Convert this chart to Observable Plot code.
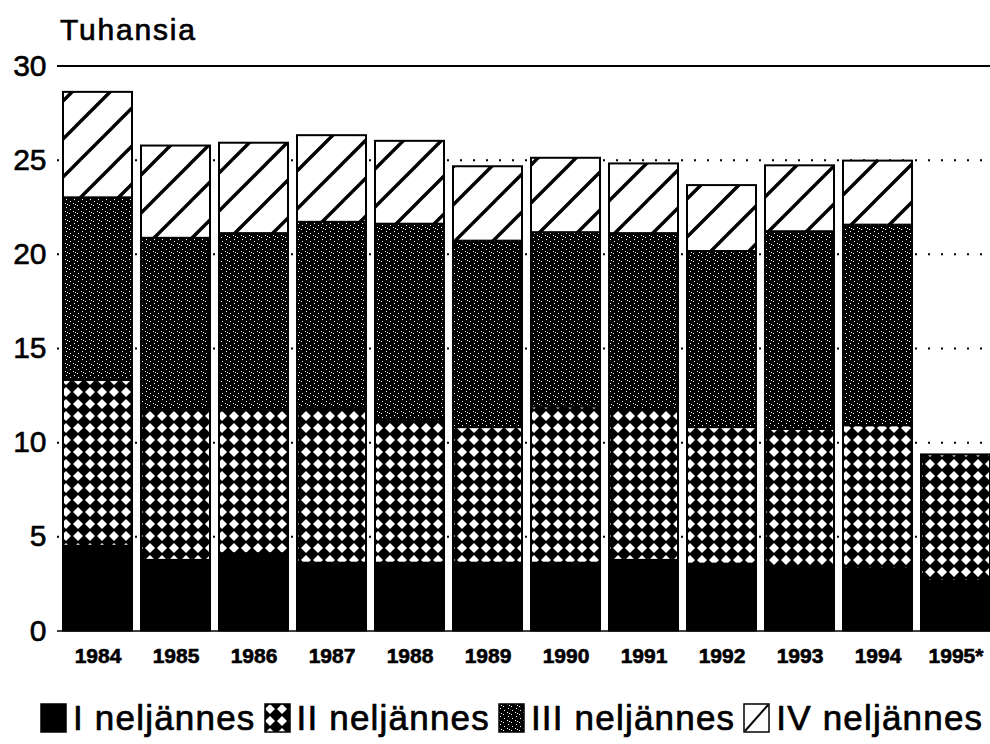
<!DOCTYPE html>
<html>
<head>
<meta charset="utf-8">
<script src="https://cdn.jsdelivr.net/npm/d3@7"></script>
<script src="https://cdn.jsdelivr.net/npm/@observablehq/plot@0.6"></script>
<style>
  html, body { margin: 0; padding: 0; background: #fff; overflow: hidden; }
  body { width: 990px; height: 744px; font-family: "Liberation Sans", Arial, sans-serif; color: #000; }
  #title { position: relative; height: 50px; }
  #title span { position: absolute; left: 60px; top: 15px; font-size: 30px; line-height: 1; letter-spacing: 1.8px; -webkit-text-stroke: 0.7px #000; }
  #chart svg { display: block; overflow: hidden; }
  #legend { display: flex; align-items: center; margin-left: 40px; margin-top: 8px; font-size: 35px; letter-spacing: 1.2px; white-space: nowrap; -webkit-text-stroke: 0.7px #000; }
  #legend .item { display: flex; align-items: center; margin-right: 8px; }
  #legend svg { display: block; margin-right: 6px; }
</style>
</head>
<body>
<div id="title"><span>Tuhansia</span></div>
<div id="chart"></div>
<div id="legend"></div>
<script>
// ---- data (thousands) ----
const years = ["1984","1985","1986","1987","1988","1989","1990","1991","1992","1993","1994","1995*"];
const quarters = ["I neljännes","II neljännes","III neljännes","IV neljännes"];
const q1 = [4.5, 3.75, 4.1, 3.6, 3.6, 3.6, 3.6, 3.75, 3.55, 3.4, 3.3, 2.65];
const q2 = [8.8, 7.95, 7.6, 8.2, 7.6, 7.2, 8.3, 8.0, 7.25, 7.3, 7.6, 6.7];
const q3 = [9.7, 9.15, 9.4, 9.9, 10.4, 9.9, 9.25, 9.35, 9.35, 10.5, 10.65, null];
const q4 = [5.6, 4.9, 4.8, 4.6, 4.4, 3.95, 3.95, 3.7, 3.5, 3.5, 3.4, null];
const yTicks = [0, 5, 10, 15, 20, 25, 30];
const gridTicks = [5, 10, 15, 20, 25];

const series = [q1, q2, q3, q4];
const fills = ["#000", "url(#patII)", "url(#patIII)", "url(#patIV)"];
const rows = [];
years.forEach((yr, i) => {
  series.forEach((s, k) => {
    if (s[i] != null) rows.push({year: yr, quarter: quarters[k], value: s[i], fill: fills[k]});
  });
});

const W = 990, H = 640;
const svg = Plot.plot({
  width: W,
  height: H,
  marginLeft: 57,
  marginRight: 0,
  marginTop: 15.5,
  marginBottom: 59.5,
  style: {fontFamily: "'Liberation Sans', Arial, sans-serif", color: "#000", background: "#fff", overflow: "hidden"},
  x: {type: "band", domain: years, range: [52.2, 1000], padding: 0.12},
  y: {domain: [0, 30]},
  marks: [
    Plot.ruleY(gridTicks, {stroke: "#000", strokeWidth: 2, strokeDasharray: "2,11"}),
    Plot.barY(rows, {x: "year", y: "value", fill: "fill", stroke: "#000", strokeWidth: 2}),
    Plot.ruleY([30], {stroke: "#000", strokeWidth: 2.2}),
    Plot.ruleY([0], {stroke: "#000", strokeWidth: 1.5}),
    Plot.axisY({ticks: yTicks, tickSize: 0, tickPadding: 11, fontSize: 30, line: true, strokeWidth: 2, label: null}),
    Plot.axisX({tickSize: 0, tickPadding: 17, fontSize: 21, fontWeight: "bold", label: null})
  ]
});

// heavier text, like the scanned original
d3.select(svg).selectAll("g[aria-label='y-axis tick label'] text, g[aria-label='x-axis tick label'] text")
  .attr("stroke", "#000").attr("stroke-width", 0.6);

// fill patterns
const defs = d3.select(svg).insert("defs", ":first-child");
const p2 = defs.append("pattern").attr("id", "patII").attr("patternUnits", "userSpaceOnUse")
  .attr("width", 12).attr("height", 12);
p2.append("rect").attr("width", 12).attr("height", 12).attr("fill", "#000");
p2.append("polygon").attr("points", "6,1 11,6 6,11 1,6").attr("fill", "#fff");

const p3 = defs.append("pattern").attr("id", "patIII").attr("patternUnits", "userSpaceOnUse")
  .attr("width", 8).attr("height", 8);
p3.append("rect").attr("width", 8).attr("height", 8).attr("fill", "#000");
[[1,1],[5,3],[2,5],[6,7],[3,2]].forEach(([a,b]) =>
  p3.append("rect").attr("x", a).attr("y", b).attr("width", 1).attr("height", 1).attr("fill", "#fff"));

const p4 = defs.append("pattern").attr("id", "patIV").attr("patternUnits", "userSpaceOnUse")
  .attr("width", 38).attr("height", 38);
p4.append("rect").attr("width", 38).attr("height", 38).attr("fill", "#fff");
p4.append("path").attr("d", "M-2,40 L40,-2 M-6,6 L6,-6 M32,44 L44,32")
  .attr("stroke", "#000").attr("stroke-width", 3.4).attr("fill", "none");

document.getElementById("chart").appendChild(svg);

// legend
const legend = d3.select("#legend");
quarters.forEach((q, k) => {
  const item = legend.append("div").attr("class", "item");
  const s = item.append("svg").attr("width", 27).attr("height", 30);
  s.append("rect").attr("x", 1).attr("y", 1).attr("width", 25).attr("height", 28)
    .attr("fill", k === 3 ? "#fff" : fills[k]).attr("stroke", "#000").attr("stroke-width", 1.5);
  if (k === 3) s.append("line").attr("x1", 2).attr("y1", 28).attr("x2", 25).attr("y2", 2)
    .attr("stroke", "#000").attr("stroke-width", 2);
  item.append("span").text(q);
});
</script>
</body>
</html>
